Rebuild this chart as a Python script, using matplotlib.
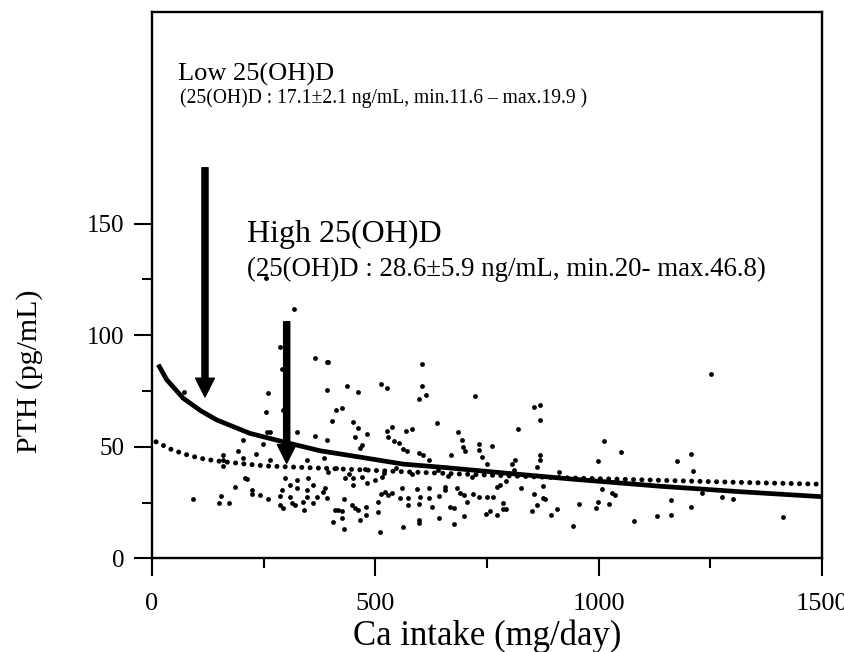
import matplotlib
matplotlib.use("Agg")
import matplotlib.pyplot as plt
from matplotlib.ticker import MultipleLocator

plt.rcParams['font.family'] = ['Liberation Serif', 'DejaVu Serif']

# Scatter data: Ca intake (mg/day) vs PTH (pg/mL)
ca_intake = [
    72, 260, 255, 294, 292, 257, 264, 324, 366, 204, 249, 193, 233, 160, 160, 160,
    204, 264, 346, 208, 212, 186, 223, 223, 242, 260, 91, 154, 149, 172, 298, 324,
    350, 309, 324, 361, 290, 346, 287, 309, 346, 370, 287, 294, 313, 319, 337, 340, 361,
    255, 318, 287, 366, 393,
    392, 605, 392, 436, 462, 512, 525, 605, 598, 613, 723, 411, 425, 404, 451, 462,
    481, 454, 525, 538, 569, 581, 637, 686, 392, 469, 466, 529, 542, 554, 563, 570,
    693, 697, 701, 731, 731, 669, 738, 598, 607, 619, 749, 384, 432, 451, 469, 481,
    499, 514, 449, 387, 382, 391, 430, 512, 522, 529, 537, 560, 593, 619, 656, 656,
    682, 572, 600, 619, 643, 507, 555, 598, 574, 690, 699, 719, 733, 749, 705, 667,
    675, 626, 410, 417, 425, 447, 454, 462, 479, 479, 507, 425, 406, 466, 430, 510,
    563, 598, 598, 643, 675, 698, 747,
    395, 412, 440, 476, 520, 546, 582, 641, 662, 716, 742,
    856, 869, 869, 819, 762, 1013, 1050, 813, 805, 869, 869, 863, 999, 911, 810, 792,
    772, 779, 825, 875, 1007, 1029, 1037, 764, 856, 875, 880, 786, 863, 786, 792, 906,
    956, 999, 1024, 993, 757, 773, 850, 893, 943, 1080, 1130,
    1251, 1175, 1206, 1212, 1231, 1161, 1206, 1161, 1275, 1300, 1413,
]
pth = [
    74.6, 73.9, 65.7, 66.4, 84.8, 56.7, 56.7, 56.7, 54.8, 53.0, 51.4, 48.2, 46.6, 46.3, 44.0, 41.4,
    44.8, 44.0, 44.0, 36.2, 35.5, 32.0, 30.7, 29.0, 28.4, 26.4, 26.4, 27.9, 24.6, 24.6, 35.8, 35.0,
    35.8, 32.8, 31.4, 32.8, 30.6, 30.6, 27.9, 27.6, 27.6, 27.6, 23.9, 22.4, 24.6, 23.9, 25.4, 21.6, 24.6,
    125.4, 111.6, 94.8, 89.9, 88.1,
    88.0, 87.0, 75.4, 77.2, 74.6, 78.0, 76.2, 77.2, 71.4, 73.2, 72.8, 66.4, 67.2, 61.5, 61.0, 58.2,
    55.7, 54.5, 57.2, 58.7, 57.2, 57.9, 60.8, 56.5, 53.0, 50.8, 49.3, 54.5, 52.7, 51.5, 48.8, 48.2,
    53.0, 49.7, 48.2, 51.2, 48.5, 46.3, 45.3, 47.0, 46.3, 44.0, 42.2, 44.8, 36.2, 35.8, 36.6, 33.9,
    35.1, 36.3, 32.8, 31.4, 29.8, 26.9, 26.4, 28.8, 29.8, 28.4, 29.1, 31.4, 30.9, 31.4, 32.1, 30.6,
    31.4, 26.9, 27.3, 27.2, 27.9, 25.4, 27.2, 24.3, 23.9, 29.1, 28.4, 28.8, 27.6, 27.6, 25.4, 23.1,
    22.4, 22.8, 21.6, 21.6, 21.3, 23.9, 22.4, 21.6, 23.1, 19.4, 20.9, 18.2, 16.1, 17.2, 13.0, 11.9,
    14.2, 17.2, 15.7, 17.9, 15.2, 19.0, 19.8,
    38.8, 40.4, 37.6, 39.8, 38.4, 40.6, 37.9, 39.4, 36.8, 36.5, 38.9,
    67.9, 68.7, 62.0, 57.8, 50.3, 52.7, 47.8, 44.0, 42.2, 46.3, 44.0, 41.0, 43.7, 38.5, 39.6, 34.6,
    32.1, 32.8, 31.4, 32.5, 31.0, 29.1, 28.4, 27.6, 28.7, 27.0, 26.4, 24.6, 23.9, 22.1, 22.1, 22.1,
    24.3, 25.4, 24.3, 22.7, 21.3, 19.4, 21.2, 19.4, 14.5, 16.7, 19.1,
    82.6, 43.6, 46.7, 39.1, 29.1, 26.1, 23.1, 19.3, 27.3, 26.4, 18.6,
]

# Regression curve, low 25(OH)D group (solid)
low_x = [14, 33, 70, 110, 145, 219, 294, 376, 470, 563, 660, 757, 940, 1137, 1320, 1500]
low_y = [86.8, 80.0, 71.7, 66.0, 62.0, 56.0, 52.2, 48.2, 45.2, 42.2, 40.6, 38.8, 35.5, 32.3, 29.8, 27.6]

# Regression curve, high 25(OH)D group (dotted)
high_x = [9, 46, 84, 121, 158, 197, 253, 328, 450, 563, 750, 900, 1130, 1300, 1500]
high_y = [52.2, 48.5, 46.0, 44.3, 43.3, 42.5, 41.4, 40.8, 39.8, 38.8, 37.3, 36.2, 35.0, 34.1, 33.2]

x_ticks = [0, 500, 1000, 1500]
y_ticks = [0, 50, 100, 150]

fig = plt.figure(figsize=(8.45, 6.52), dpi=100)
ax = fig.add_axes([0.1799, 0.1437, 0.7929, 0.8379])

ax.scatter(ca_intake, pth, s=12, marker='o', color='black', linewidths=0, zorder=3)
ax.plot(low_x, low_y, color='black', lw=3.4, solid_capstyle='butt', zorder=4)
ax.plot(high_x, high_y, color='black', lw=3.6, linestyle=(0, (0.01, 1.65)),
        dash_capstyle='round', zorder=4)

ax.set_xlim(0, 1500)
ax.set_ylim(0, 244.8)
ax.set_xticks(x_ticks)
ax.set_yticks(y_ticks)
ax.xaxis.set_minor_locator(MultipleLocator(250))
ax.set_yticks([25, 75, 125], minor=True)
ax.tick_params(which='major', direction='out', length=13, width=1.5, labelsize=18, pad=7)
ax.tick_params(axis='x', which='major', labelsize=19, pad=12)
ax.tick_params(which='minor', direction='out', length=7, width=1.5)
for s in ax.spines.values():
    s.set_linewidth(1.7)

ax.set_xlabel('Ca intake (mg/day)', fontsize=25, labelpad=3)
ax.set_ylabel('PTH (pg/mL)', fontsize=21.5)
ax.yaxis.set_label_coords(-0.163, 0.343)

# Arrows
arrow_kw = dict(arrowstyle='simple,head_length=1.35,head_width=1.35,tail_width=0.44',
                color='black', shrinkA=0, shrinkB=0, mutation_scale=10)
ax.annotate('', xy=(118.6, 72.3), xytext=(118.6, 175.0), arrowprops=arrow_kw)
ax.annotate('', xy=(301.5, 42.6), xytext=(301.5, 106.0), arrowprops=arrow_kw)

# Texts
ax.text(58, 214.0, 'Low 25(OH)D', fontsize=19, va='baseline', ha='left')
ax.text(62, 204.0, '(25(OH)D : 17.1\u00b12.1 ng/mL, min.11.6 \u2013 max.19.9 )',
        fontsize=14.1, va='baseline', ha='left')
ax.text(212, 141.6, 'High 25(OH)D', fontsize=23, va='baseline', ha='left')
ax.text(212, 126.5, '(25(OH)D : 28.6\u00b15.9 ng/mL, min.20- max.46.8)',
        fontsize=19.4, va='baseline', ha='left')

fig.savefig('out.png', dpi=100)
